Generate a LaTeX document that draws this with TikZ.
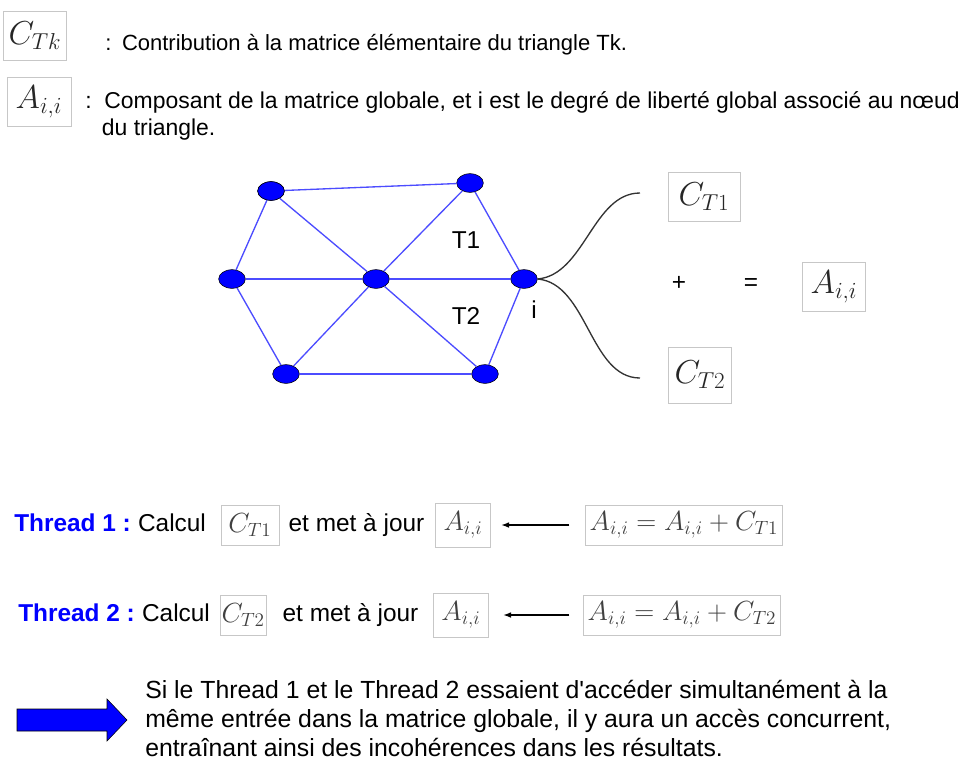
\documentclass[tikz,border=0pt]{standalone}
\usepackage{fontspec}
\setmainfont{Liberation Sans}
\usetikzlibrary{arrows.meta,positioning,shapes.geometric}
\tikzset{
  mbox/.style  = {draw=black!22, inner xsep=4pt, minimum height=37pt, font=\fontsize{23.5}{28}\selectfont, text=black!85},
  tbox/.style  = {draw=black!22, inner xsep=3pt, minimum height=30pt, font=\fontsize{20}{24}\selectfont, text=black!75},
  txt/.style   = {font=\fontsize{16.5}{20}\selectfont, anchor=west, inner sep=0pt},
  ttxt/.style  = {font=\fontsize{18.3}{22}\selectfont, anchor=west, inner sep=0pt, text height=13pt, text depth=4pt},
  thr/.style   = {font=\fontsize{18.3}{22}\selectfont\bfseries, text=blue, anchor=west, inner sep=0pt, text height=13pt, text depth=4pt},
  vtx/.style   = {ellipse, draw=black, fill=blue, minimum width=20pt, minimum height=14pt, inner sep=0pt},
  edge/.style  = {draw=blue!70, line width=1pt},
  crv/.style   = {draw=black!80, line width=1pt},
  arr/.style   = {-{Latex[length=2mm]}, draw=black, thick},
}
\begin{document}
\begin{tikzpicture}[x=0.75pt, y=-0.75pt]
  \useasboundingbox (0,0) rectangle (966,764);
  % legend
  \node[mbox, minimum width=42pt] (ck) at (35,36) {$C_{Tk}$};
  \node[txt] (ckd) at (105,45) {:\hspace{8pt}Contribution à la matrice élémentaire du triangle Tk.};
  \node[mbox, minimum width=48pt] (aii) at (39,102) {$A_{i,i}$};
  \node[txt, font=\fontsize{17.2}{20}\selectfont, align=left] (aiid) at (85,116) {:\ \ Composant de la matrice globale, et i est le degré de liberté global associé au nœud\\
  \hspace*{12.5pt}du triangle.};
  % mesh
  \node[vtx] (n1) at (271,191) {};
  \node[vtx] (n2) at (470,183) {};
  \node[vtx] (n3) at (232,279) {};
  \node[vtx] (n4) at (376,279) {};
  \node[vtx] (n5) at (524,279) {};
  \node[vtx] (n6) at (286,374) {};
  \node[vtx] (n7) at (485,374) {};
  \foreach \a/\b in {n1/n2, n1/n3, n1/n4, n2/n4, n2/n5, n3/n4, n4/n5, n3/n6, n4/n6, n4/n7, n5/n7, n6/n7}
    \draw[edge] (\a) -- (\b);
  \foreach \a in {n1,...,n7}
    \node[vtx] at (\a) {};
  \node[ttxt, anchor=center] (t1) at (466,242) {T1};
  \node[ttxt, anchor=center] (t2) at (466,318) {T2};
  \node[ttxt, anchor=center] (li) at (534,312) {i};
  % contributions
  \coordinate (c1) at (640,193);
  \coordinate (c2) at (640,378);
  \draw[crv] (n5.east) to[out=5, in=180, looseness=0.9] (c1);
  \draw[crv] (n5.east) to[out=-5, in=180, looseness=0.9] (c2);
  \node[mbox, minimum width=54pt] (ct1) at (704,197) {$C_{T1}$};
  \node[mbox, minimum width=47pt, minimum height=42pt] (ct2) at (700,375) {$C_{T2}$};
  \node[ttxt, anchor=center] (plus) at (679,284) {+};
  \node[ttxt, anchor=center] (eq) at (751,284) {=};
  \node[mbox, minimum width=47pt] (sum) at (834,287) {$A_{i,i}$};
  % thread 1
  \node[thr] (th1) at (14,525) {Thread 1 :};
  \node[ttxt, right=5pt of th1] (cal1) {Calcul};
  \node[tbox, right=11pt of cal1, inner xsep=5.5pt] (ca1) {$C_{T1}$};
  \node[ttxt, right=7pt of ca1] (maj1) {et met à jour};
  \node[tbox, right=8pt of maj1, minimum height=33pt, inner xsep=6pt] (up1) {$A_{i,i}$};
  \node[tbox] (eq1) at (684,525) {$A_{i,i}=A_{i,i}+C_{T1}$};
  \draw[arr] ([xshift=-12pt]eq1.west) -- ([xshift=8pt]up1.east);
  % thread 2
  \node[thr] (th2) at (18,615) {Thread 2 :};
  \node[ttxt, right=5pt of th2] (cal2) {Calcul};
  \node[tbox, right=7.5pt of cal2, inner xsep=1pt] (ca2) {$C_{T2}$};
  \node[ttxt, right=12pt of ca2] (maj2) {et met à jour};
  \node[tbox, right=11pt of maj2, minimum height=33pt, inner xsep=6pt] (up2) {$A_{i,i}$};
  \node[tbox] (eq2) at (682,615) {$A_{i,i}=A_{i,i}+C_{T2}$};
  \draw[arr] ([xshift=-10.5pt]eq2.west) -- ([xshift=11pt]up2.east);
  % conclusion
  \draw[draw=black, fill=blue] (17,709) -- (107,709) -- (107,699) -- (127,720) -- (107,741) -- (107,731) -- (17,731) -- cycle;
  \node[txt, font=\fontsize{18.6}{21.8}\selectfont, align=left, anchor=north west] (ccl) at (145,680) {Si le Thread 1 et le Thread 2 essaient d\textquotesingle accéder simultanément à la\\
  même entrée dans la matrice globale, il y aura un accès concurrent,\\
  entraînant ainsi des incohérences dans les résultats.};
\end{tikzpicture}
\end{document}
